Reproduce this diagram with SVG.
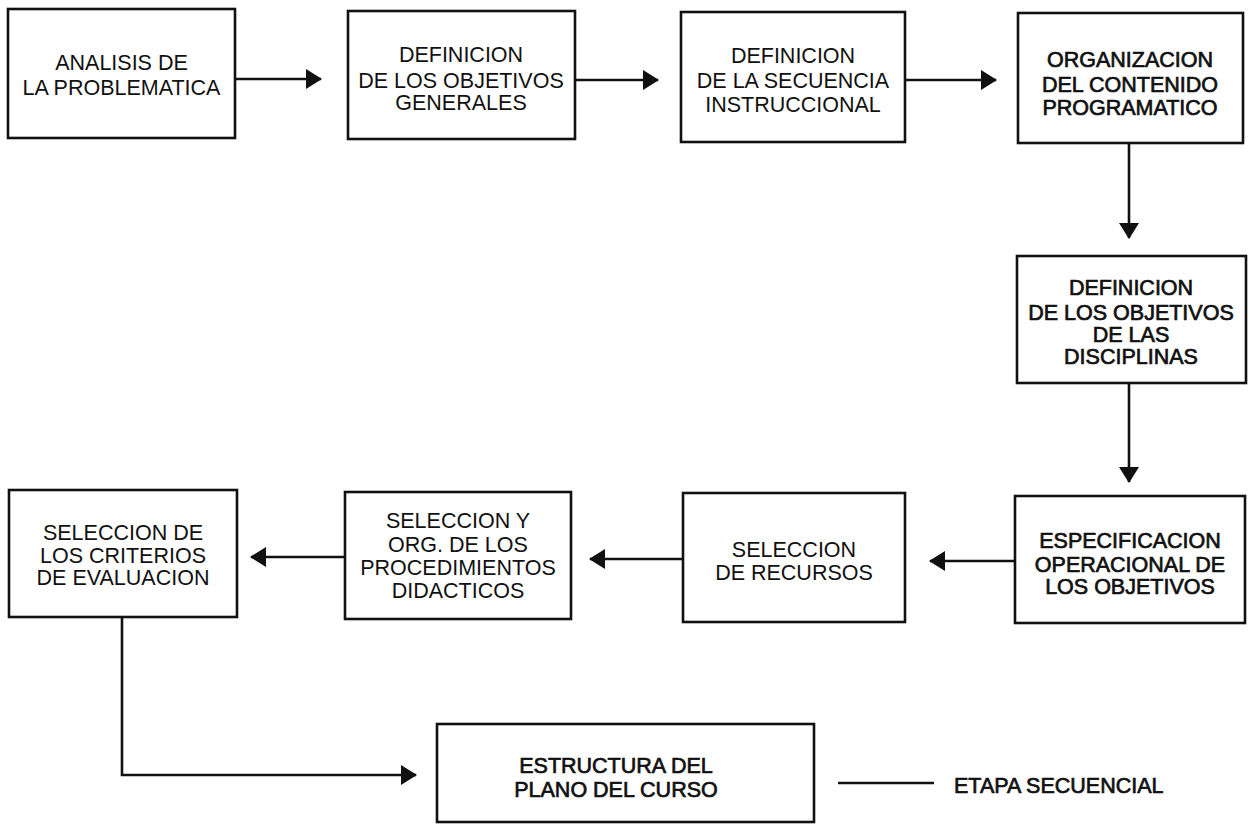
<svg xmlns="http://www.w3.org/2000/svg" width="1254" height="825" viewBox="0 0 1254 825">
<style>
.box{fill:#fff;stroke:#111;stroke-width:2.6}
.t{font-family:"Liberation Sans",Arial,sans-serif;font-size:21.5px;fill:#111;text-anchor:middle}
.b{stroke:#111;stroke-width:0.7}
.c{fill:none;stroke:#111;stroke-width:2.6}
</style>
<defs>
<marker id="ah" viewBox="0 0 16 20" refX="15" refY="10" markerWidth="16" markerHeight="20" markerUnits="userSpaceOnUse" orient="auto">
<path d="M0,0 L16,10 L0,20 z" fill="#111"/>
</marker>
</defs>
<rect width="1254" height="825" fill="#fff"/>
<g id="connectors">
<path class="c" d="M235,79 H321" marker-end="url(#ah)"/>
<path class="c" d="M575,80 H658" marker-end="url(#ah)"/>
<path class="c" d="M905,80 H996" marker-end="url(#ah)"/>
<path class="c" d="M1129,143 V238" marker-end="url(#ah)"/>
<path class="c" d="M1129,383 V482" marker-end="url(#ah)"/>
<path class="c" d="M1015,561 H930" marker-end="url(#ah)"/>
<path class="c" d="M683,559 H590" marker-end="url(#ah)"/>
<path class="c" d="M345,557 H251" marker-end="url(#ah)"/>
<path class="c" d="M122,617 V775 H416" marker-end="url(#ah)"/>
</g>
<g id="n1">
<rect class="box" x="8" y="9" width="227" height="129"/>
<text class="t" x="121.5" y="70">ANALISIS DE</text>
<text class="t" x="121.5" y="95">LA PROBLEMATICA</text>
</g>
<g id="n2">
<rect class="box" x="348" y="11" width="227" height="128"/>
<text class="t" x="461" y="62">DEFINICION</text>
<text class="t" x="461" y="88">DE LOS OBJETIVOS</text>
<text class="t" x="461" y="110">GENERALES</text>
</g>
<g id="n3">
<rect class="box" x="681" y="12" width="224" height="130"/>
<text class="t" x="793" y="63">DEFINICION</text>
<text class="t" x="793" y="88">DE LA SECUENCIA</text>
<text class="t" x="793" y="112">INSTRUCCIONAL</text>
</g>
<g id="n4">
<rect class="box" x="1018" y="13" width="225" height="130"/>
<text class="t b" x="1130" y="67">ORGANIZACION</text>
<text class="t b" x="1130" y="92">DEL CONTENIDO</text>
<text class="t b" x="1130" y="115">PROGRAMATICO</text>
</g>
<g id="n5">
<rect class="box" x="1017" y="256" width="229" height="127"/>
<text class="t b" x="1131" y="295">DEFINICION</text>
<text class="t b" x="1131" y="320">DE LOS OBJETIVOS</text>
<text class="t b" x="1131" y="342">DE LAS</text>
<text class="t b" x="1131" y="364">DISCIPLINAS</text>
</g>
<g id="n6">
<rect class="box" x="1015" y="496" width="230" height="127"/>
<text class="t b" x="1130" y="548">ESPECIFICACION</text>
<text class="t b" x="1130" y="572">OPERACIONAL DE</text>
<text class="t b" x="1130" y="594">LOS  OBJETIVOS</text>
</g>
<g id="n7">
<rect class="box" x="683" y="493" width="222" height="129"/>
<text class="t" x="794" y="557">SELECCION</text>
<text class="t" x="794" y="580">DE RECURSOS</text>
</g>
<g id="n8">
<rect class="box" x="345" y="492" width="226" height="127"/>
<text class="t" x="458" y="528">SELECCION Y</text>
<text class="t" x="458" y="552">ORG. DE LOS</text>
<text class="t" x="458" y="575">PROCEDIMIENTOS</text>
<text class="t" x="458" y="598">DIDACTICOS</text>
</g>
<g id="n9">
<rect class="box" x="9" y="490" width="228" height="127"/>
<text class="t" x="123" y="540">SELECCION DE</text>
<text class="t" x="123" y="563">LOS CRITERIOS</text>
<text class="t" x="123" y="585">DE EVALUACION</text>
</g>
<g id="n10">
<rect class="box" x="437" y="724" width="377" height="98"/>
<text class="t b" x="616" y="773">ESTRUCTURA DEL</text>
<text class="t b" x="616" y="797">PLANO DEL CURSO</text>
</g>
<g id="legend">
<path class="c" d="M838,783 H934"/>
<text class="t b" x="954" y="793" style="text-anchor:start">ETAPA SECUENCIAL</text>
</g>
</svg>
